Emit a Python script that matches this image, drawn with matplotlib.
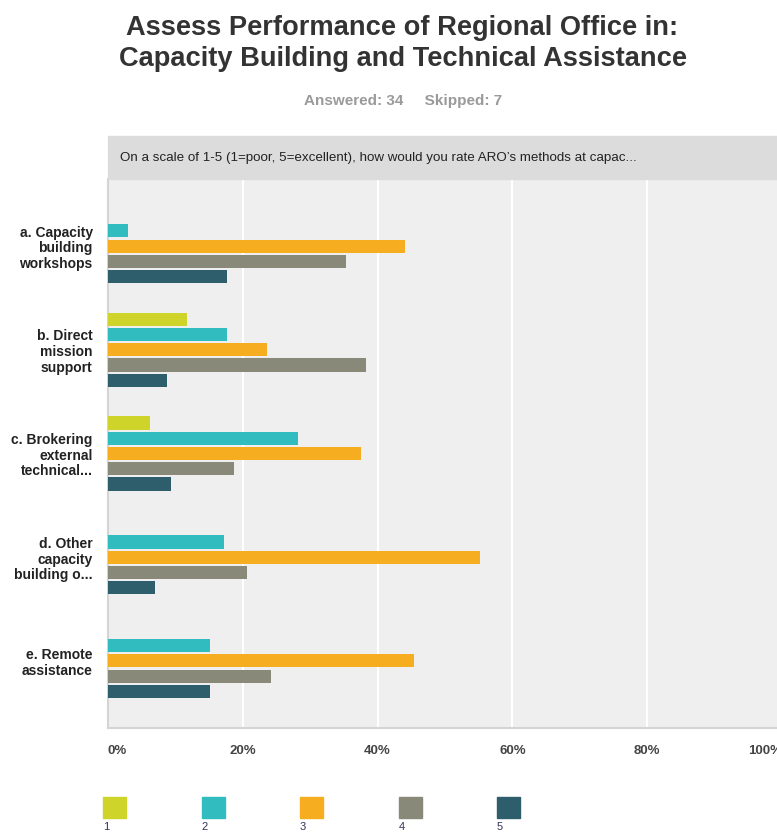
import numpy as np
import matplotlib.pyplot as plt
from matplotlib.patches import Rectangle

plt.rcParams["font.family"] = ["Liberation Sans", "DejaVu Sans"]

# survey data (share of responses, %)
categories = [
    "a. Capacity\nbuilding\nworkshops",
    "b. Direct\nmission\nsupport",
    "c. Brokering\nexternal\ntechnical...",
    "d. Other\ncapacity\nbuilding o...",
    "e. Remote\nassistance",
]
series_labels = ["1", "2", "3", "4", "5"]
rating_1 = [0.0, 11.76, 6.25, 0.0, 0.0]
rating_2 = [2.94, 17.65, 28.13, 17.24, 15.15]
rating_3 = [44.12, 23.53, 37.50, 55.17, 45.45]
rating_4 = [35.29, 38.24, 18.75, 20.69, 24.24]
rating_5 = [17.65, 8.82, 9.38, 6.90, 15.15]
series = [rating_1, rating_2, rating_3, rating_4, rating_5]
colors = ["#cfd42a", "#31bdbf", "#f6ae20", "#888978", "#2e5e6b"]
xticks = [0, 20, 40, 60, 80, 100]

W, H = 777, 833
fig = plt.figure(figsize=(W / 100, H / 100), dpi=100)

# plot area in pixel terms
left, right, top, bottom = 108, 782, 179, 728
ax = fig.add_axes([left / W, (H - bottom) / H, (right - left) / W, (bottom - top) / H])
ax.set_facecolor("#efefef")

pitch = 0.147
bh = 0.127
y = np.arange(len(categories))
for k, vals in enumerate(series):
    ax.barh(y + (k - 2) * pitch, vals, height=bh, color=colors[k], zorder=3)

ax.set_xlim(0, 100)
ax.set_ylim(4.647, -0.647)
ax.set_xticks(xticks)
ax.xaxis.grid(True, color="white", linewidth=1.5, zorder=1)
ax.set_axisbelow(True)
ax.tick_params(axis="both", length=0)
labs = ax.set_xticklabels(["{}%".format(t) for t in xticks], fontsize=9.5,
                          color="#444444", fontweight="bold")
labs[0].set_ha("left")
labs[-1].set_ha("right")
ax.tick_params(axis="x", pad=12)
ax.set_yticks(y)
ax.set_yticklabels(categories, fontsize=10, fontweight="bold", color="#222222",
                   linespacing=1.15)
ax.tick_params(axis="y", pad=11)
for s in ["top", "right"]:
    ax.spines[s].set_visible(False)
ax.spines["left"].set_color("#d4d4d4")
ax.spines["bottom"].set_color("#d4d4d4")
ax.spines["left"].set_linewidth(1.5)
ax.spines["bottom"].set_linewidth(1.5)

# header bar with question text
fig.patches.append(Rectangle((left / W, (H - 179) / H), (W - left) / W, 43 / H,
                             transform=fig.transFigure, color="#dcdcdc", zorder=0))
fig.text(120 / W, (H - 158) / H,
         "On a scale of 1-5 (1=poor, 5=excellent), how would you rate ARO\u2019s methods at capac...",
         fontsize=9.6, color="#222222", va="center", ha="left")

# title
fig.text(402 / W, (H - 35) / H, "Assess Performance of Regional Office in:",
         fontsize=19.6, fontweight="bold", color="#333333", ha="center", va="baseline")
fig.text(403 / W, (H - 66) / H, "Capacity Building and Technical Assistance",
         fontsize=19.6, fontweight="bold", color="#333333", ha="center", va="baseline")
fig.text(403 / W, (H - 105) / H, "Answered: 34     Skipped: 7",
         fontsize=11, fontweight="bold", color="#9a9a9a", ha="center", va="baseline")

# legend
for k, lab in enumerate(series_labels):
    x0 = 103 + k * 98.5
    fig.patches.append(Rectangle((x0 / W, (H - 818) / H), 23 / W, 21 / H,
                                 transform=fig.transFigure, color=colors[k]))
    fig.text(x0 / W, (H - 827) / H, lab, fontsize=8, color="#333355",
             ha="left", va="center")

fig.savefig("out.png", dpi=100)
